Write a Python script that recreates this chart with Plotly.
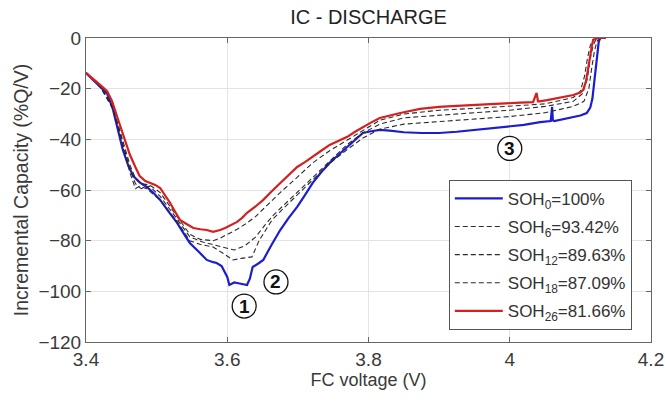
import plotly.graph_objects as go

# ---------------- data ----------------
v_soh0 = [3.400, 3.410, 3.420, 3.430, 3.438, 3.445, 3.452, 3.460, 3.467, 3.476, 3.486, 3.495, 3.505, 3.517,
          3.529, 3.538, 3.547, 3.560, 3.571, 3.580, 3.585, 3.592, 3.600, 3.603, 3.610, 3.614, 3.620, 3.628,
          3.632, 3.636, 3.644, 3.651, 3.663, 3.675, 3.687, 3.699, 3.710, 3.721, 3.733, 3.745, 3.758, 3.770,
          3.781, 3.792, 3.804, 3.816, 3.830, 3.850, 3.875, 3.900, 3.925, 3.950, 3.975, 4.000, 4.020, 4.043,
          4.058, 4.060, 4.061, 4.063, 4.075, 4.090, 4.100, 4.109, 4.114, 4.117, 4.120, 4.122, 4.124, 4.126,
          4.128, 4.136]
ic_soh0 = [-13.8, -16.5, -19.3, -22, -28, -36, -44, -50.5, -54.5, -57, -58.8, -61, -63.9, -68.5,
           -73, -77, -80.9, -84.5, -87.6, -88.5, -88.8, -90, -94.3, -97.5, -96.5, -96.7, -97, -97.5,
           -95, -90.4, -89, -87.6, -81.5, -75.8, -71, -66.7, -62, -57.2, -53, -49.3, -46, -43,
           -40, -37.5, -36.8, -36.3, -36.6, -37.2, -37.5, -37.5, -37, -36.3, -35.7, -35.1, -34.3, -33.2,
           -32.8, -27.2, -32.5, -32.8, -32, -31.2, -30.6, -29.6, -27.5, -24, -16.6, -10, -4.7, -1.5,
           0, 0]

v_soh6 = [3.400, 3.420, 3.438, 3.452, 3.462, 3.470, 3.476, 3.486, 3.505, 3.529, 3.547, 3.562, 3.580, 3.594,
          3.608, 3.620, 3.635, 3.645, 3.663, 3.675, 3.699, 3.721, 3.745, 3.770, 3.792, 3.816, 3.850, 3.900,
          3.950, 4.000, 4.050, 4.090, 4.105, 4.112, 4.116, 4.120, 4.124, 4.130]
ic_soh6 = [-13.8, -19.3, -28, -42, -53, -59.5, -58.5, -59.5, -64, -72.5, -80, -81.5, -82.5, -85,
           -87.6, -87, -86.4, -80, -72, -68.5, -62, -56, -49.5, -44, -39.5, -36, -34, -33,
           -32, -31, -29.5, -27, -25, -20, -12, -5, -1, 0]

v_soh12 = [3.400, 3.420, 3.438, 3.452, 3.462, 3.470, 3.478, 3.490, 3.505, 3.529, 3.547, 3.565, 3.580, 3.594,
           3.610, 3.625, 3.640, 3.653, 3.665, 3.680, 3.699, 3.721, 3.745, 3.770, 3.792, 3.816, 3.850, 3.900,
           3.950, 4.000, 4.050, 4.090, 4.103, 4.110, 4.114, 4.118, 4.122, 4.130]
ic_soh12 = [-13.8, -19, -27.5, -41, -51.5, -57.5, -59.5, -58.5, -62.5, -71.5, -78.5, -80.5, -81.5, -82.5,
            -83.7, -82, -78.6, -74, -70, -66, -61, -54.9, -48.5, -42, -37.5, -34, -31.5, -30.5,
            -29.5, -28.5, -27, -25, -22, -16, -8, -3, -0.5, 0]

v_soh18 = [3.400, 3.420, 3.438, 3.452, 3.462, 3.470, 3.478, 3.490, 3.505, 3.529, 3.547, 3.562, 3.580, 3.590,
           3.600, 3.614, 3.628, 3.640, 3.651, 3.675, 3.699, 3.721, 3.745, 3.770, 3.792, 3.816, 3.850, 3.900,
           3.950, 4.000, 4.050, 4.090, 4.100, 4.106, 4.110, 4.114, 4.118, 4.130]
ic_soh18 = [-13.8, -18.8, -27, -40, -50, -55.5, -57.5, -58, -61, -70.5, -77.5, -79.5, -80, -79,
            -77.5, -75.5, -73, -70.5, -67.5, -61, -55, -49.3, -44.5, -40.3, -36.5, -32.5, -30, -28.5,
            -27.8, -27, -26, -23.5, -21, -15, -8, -3, -0.5, 0]

v_soh26 = [3.400, 3.410, 3.420, 3.430, 3.437, 3.444, 3.452, 3.462, 3.470, 3.476, 3.484, 3.491, 3.498, 3.505,
           3.512, 3.519, 3.526, 3.533, 3.543, 3.552, 3.562, 3.571, 3.580, 3.590, 3.597, 3.605, 3.614, 3.621,
           3.628, 3.640, 3.651, 3.663, 3.675, 3.687, 3.699, 3.710, 3.721, 3.733, 3.745, 3.758, 3.770, 3.781,
           3.792, 3.804, 3.816, 3.845, 3.873, 3.900, 3.925, 3.948, 3.975, 3.996, 4.015, 4.033, 4.038, 4.040,
           4.042, 4.053, 4.070, 4.090, 4.100, 4.104, 4.108, 4.111, 4.114, 4.116, 4.118, 4.125, 4.136]
ic_soh26 = [-13.8, -16, -18.5, -21, -25, -31, -38, -46, -51, -54.5, -56.5, -57.2, -58, -59.2,
            -62, -65.1, -68.5, -71.8, -73.5, -75, -75.5, -75.8, -76.5, -75.8, -75, -74, -72.6, -71,
            -69, -66.5, -63.9, -60.5, -57.2, -54, -50.9, -49, -47, -44.5, -42.2, -40.5, -39, -37,
            -35.1, -33.3, -31.6, -29.6, -28, -27.2, -26.8, -26.4, -26, -25.7, -25.5, -25.3, -21.7, -25,
            -25, -24.5, -23.5, -22.5, -21.5, -20.5, -17, -12.6, -7, -3.5, -0.8, 0, 0]

names = ["SOH<sub>0</sub>=100%", "SOH<sub>6</sub>=93.42%", "SOH<sub>12</sub>=89.63%",
         "SOH<sub>18</sub>=87.09%", "SOH<sub>26</sub>=81.66%"]

x_ticks = [3.4, 3.6, 3.8, 4.0, 4.2]
x_tick_labels = ["3.4", "3.6", "3.8", "4", "4.2"]
y_ticks = [0, -20, -40, -60, -80, -100, -120]

marker_labels = ["1", "2", "3"]
marker_v = [3.624, 3.669, 4.000]
marker_ic = [-105.8, -96.3, -43.6]

# ---------------- figure ----------------
FONT = "Liberation Sans, Arial, sans-serif"
TXT = "#3a3a3a"
W, H = 665, 403
L, R, T, B = 86, 14, 38, 61

fig = go.Figure()
fig.add_trace(go.Scatter(x=v_soh0, y=ic_soh0, mode="lines", name=names[0], legendgroup="a",
                         line=dict(color="#1c1cd0", width=2.2)))
fig.add_trace(go.Scatter(x=v_soh6, y=ic_soh6, mode="lines", name=names[1], legendgroup="b",
                         line=dict(color="#2a2a2a", width=1.1, dash="5px,3px")))
fig.add_trace(go.Scatter(x=v_soh12, y=ic_soh12, mode="lines", name=names[2], legendgroup="c",
                         line=dict(color="#2a2a2a", width=1.1, dash="5px,3px")))
fig.add_trace(go.Scatter(x=v_soh18, y=ic_soh18, mode="lines", name=names[3], legendgroup="d",
                         line=dict(color="#2a2a2a", width=1.1, dash="5px,3px")))
fig.add_trace(go.Scatter(x=v_soh26, y=ic_soh26, mode="lines", name=names[4], legendgroup="e",
                         line=dict(color="#d42020", width=2.2)))

for t, xv, yv in zip(marker_labels, marker_v, marker_ic):
    fig.add_shape(type="circle", xref="x", yref="y", xsizemode="pixel", ysizemode="pixel",
                  xanchor=xv, yanchor=yv, x0=-12, x1=12, y0=-12, y1=12,
                  line=dict(color="#111111", width=1.3), fillcolor="white", layer="above")
    fig.add_annotation(x=xv, y=yv, text="<b>" + t + "</b>", showarrow=False,
                       font=dict(family=FONT, size=19, color="#111111"))

fig.update_layout(
    width=W, height=H,
    margin=dict(l=L, r=R, t=T, b=B),
    paper_bgcolor="white", plot_bgcolor="white",
    font=dict(family=FONT, color=TXT, size=16),
    title=dict(text="IC - DISCHARGE", x=(L + (W - R)) / 2 / W, xanchor="center",
               y=1 - 17 / H, yanchor="middle", font=dict(size=20, color="#222222", family=FONT)),
    showlegend=True,
    legend=dict(x=0.966, xanchor="right", y=0.04, yanchor="bottom",
                bgcolor="white", bordercolor="#555555", borderwidth=1,
                font=dict(size=17, color="#333333", family=FONT),
                tracegroupgap=3, itemwidth=48),
)
fig.update_xaxes(range=[3.4, 4.2], tickvals=x_ticks, ticktext=x_tick_labels,
                 showgrid=True, gridcolor="#e3e3e3", gridwidth=1,
                 showline=True, linecolor="#666666", linewidth=1, mirror="ticks",
                 ticks="inside", ticklen=5, tickcolor="#666666", automargin=False,
                 zeroline=False, tickfont=dict(size=19),
                 title=dict(text="FC voltage (V)", font=dict(size=18), standoff=4))
fig.update_yaxes(range=[-120, 0], tickvals=y_ticks,
                 showgrid=True, gridcolor="#e3e3e3", gridwidth=1,
                 showline=True, linecolor="#666666", linewidth=1, mirror="ticks",
                 ticks="inside", ticklen=5, tickcolor="#666666", automargin=False,
                 zeroline=False, tickfont=dict(size=19),
                 title=dict(text="Incremental Capacity (%Q/V)", font=dict(size=19.5), standoff=4))

fig.write_html("out.html", config={"displayModeBar": False},
               post_script="document.body.style.margin='0';document.body.style.overflow='hidden';")
